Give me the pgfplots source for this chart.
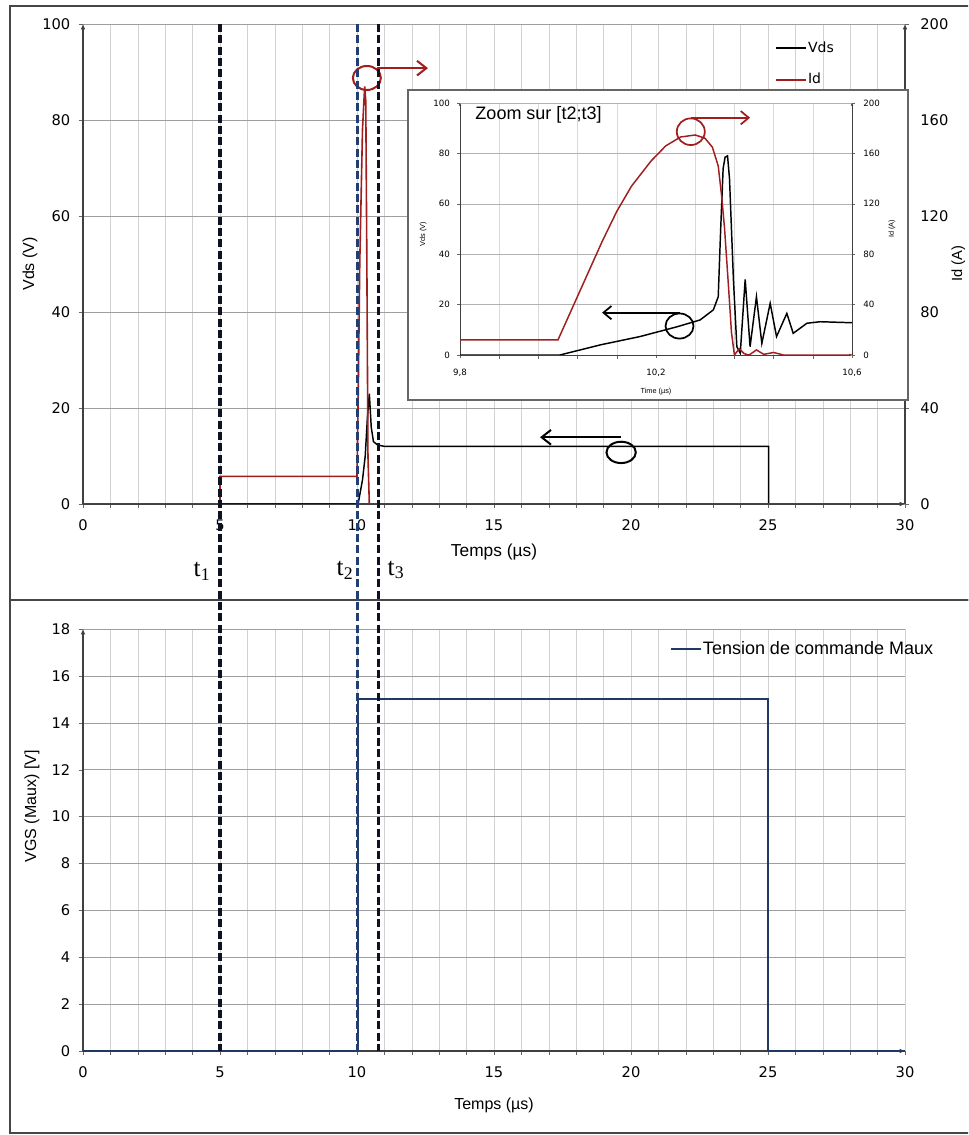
\documentclass[border=0pt]{standalone}
\usepackage{pgfplots}
\pgfplotsset{compat=1.18}
\usepackage{fontspec}
\setmainfont{Liberation Sans}
\newfontfamily\dv{DejaVu Sans}
\newfontfamily\tnr{Liberation Serif}
\usetikzlibrary{arrows.meta}

\definecolor{idred}{RGB}{160,30,30}
\definecolor{vgsblue}{RGB}{31,56,100}
\definecolor{framegray}{RGB}{70,70,70}
\definecolor{tdash}{RGB}{15,18,35}
\definecolor{tblue}{RGB}{35,62,115}

\tikzset{tline/.style={line width=2.4pt, dash pattern=on 6pt off 2.5pt}}
\pgfplotsset{
  excel/.style={scale only axis, axis lines*=left,
    axis line style={black!75,line width=0.8pt,-{Latex[length=4pt,width=3.5pt]}},
    tick align=outside, major tick length=3pt, tick style={black!60},
    every tick label/.append style={font=\dv\fontsize{11}{13}\selectfont},
    /pgf/number format/assume math mode=true},
}

\begin{document}
\begin{tikzpicture}
\useasboundingbox (0,0) rectangle (726pt,851.25pt);
\clip (0,0) rectangle (726pt,851.25pt);
\fill[white] (0,0) rectangle (726pt,851.25pt);
% frames
\draw[framegray,line width=1.3pt] (7.5pt,401.25pt) rectangle (740pt,846.75pt);
\draw[framegray,line width=1.3pt] (7.5pt,1.5pt) rectangle (740pt,401.25pt);
\draw[framegray,line width=2pt] (7.5pt,401.25pt) -- (740pt,401.25pt);

% ---- top: Vds
\begin{axis}[excel, at={(62.25pt,473.25pt)}, anchor=south west,
  width=616.5pt, height=360pt,
  xmin=0, xmax=30, ymin=0, ymax=100,
  xtick={0,5,...,30}, ytick={0,20,...,100}, minor x tick num=4,
  xmajorgrids, xminorgrids, ymajorgrids,
  x grid style={black!18}, y grid style={black!38},
  xticklabel style={yshift=-5pt}, yticklabel style={xshift=-3pt},
  ylabel={Vds (V)}, xlabel={Temps (µs)},
  every axis y label/.style={at={(axis description cs:-0.0645,0.5)},rotate=90,anchor=center,font=\fontsize{12}{14}\selectfont},
  every axis x label/.style={at={(axis description cs:0.5,-0.1)},anchor=center,font=\fontsize{13}{15}\selectfont}]
\addplot[black, line width=1.1pt] coordinates {
  (5,0) (10.04,0) (10.2,5) (10.3,10) (10.38,18) (10.45,23) (10.52,16)
  (10.6,13) (10.75,12.3) (11,12) (25.02,12) (25.02,0)};
\end{axis}

% ---- top: Id on right axis
\begin{axis}[excel, axis y line*=right, axis x line=none,
  at={(62.25pt,473.25pt)}, anchor=south west,
  width=616.5pt, height=360pt,
  xmin=0, xmax=30, ymin=0, ymax=200, xtick=\empty,
  ytick={0,40,...,200}, yticklabel style={xshift=5pt},
  ylabel={Id (A)},
  every axis y label/.style={at={(axis description cs:1.065,0.5)},rotate=90,anchor=center,font=\fontsize{11}{13}\selectfont},
  legend style={at={(0.842,0.966)}, anchor=north west, draw=none, fill=none,
    font=\dv\fontsize{10.5}{12}\selectfont, row sep=12pt, inner sep=0pt,
    nodes={inner sep=1pt}},
  legend image code/.code={\draw[#1] (0pt,0pt) -- (22pt,0pt);},
  legend cell align=left]
\addlegendimage{black,line width=1.5pt}
\addlegendentry{Vds}
\addlegendimage{idred,line width=1.5pt}
\addlegendentry{Id}
\addplot[idred, line width=1.2pt] coordinates {
  (0,0) (5,0) (5,11.5) (10.0,11.5) (10.05,50) (10.1,100) (10.2,156)
  (10.28,174) (10.32,168) (10.36,100) (10.4,20) (10.45,0) (30,0)};
\draw[idred, line width=1.5pt] (axis cs:10.36,177.5) ellipse [x radius=10.5pt, y radius=9pt];
\draw[idred, line width=1.5pt, -{Straight Barb[length=7pt,width=11pt]}]
  (axis cs:10.73,181.6) -- (axis cs:12.59,181.6);
\draw[black, line width=1.5pt] (axis cs:19.64,21.5) ellipse [x radius=11pt, y radius=8pt];
\draw[black, line width=1.5pt, -{Straight Barb[length=7pt,width=11pt]}]
  (axis cs:19.64,27.8) -- (axis cs:16.68,27.8);
\end{axis}

% ---- inset
\fill[white] (306pt,551.25pt) rectangle (681pt,783.75pt);
\draw[black!60, line width=0.8pt] (306pt,551.25pt) rectangle (681pt,783.75pt);

\begin{axis}[excel, at={(345pt,585pt)}, anchor=south west,
  width=294pt, height=189pt,
  xmin=9.8, xmax=10.6, ymin=0, ymax=100,
  axis line style={black!75,line width=0.6pt,-{Latex[length=2pt,width=2pt]}},
  major tick length=2pt,
  xtick={9.8,10.2,10.6}, xticklabels={{9,8},{10,2},{10,6}},
  minor xtick={9.88,9.96,10.04,10.12,10.28,10.36,10.44,10.52},
  ytick={0,20,...,100},
  xmajorgrids, xminorgrids, ymajorgrids,
  x grid style={black!15}, y grid style={black!30},
  every tick label/.append style={font=\dv\fontsize{6.5}{8}\selectfont},
  xticklabel style={yshift=-5pt}, yticklabel style={xshift=-2pt},
  ylabel={Vds (V)}, xlabel={Time (µs)},
  every axis y label/.style={at={(axis description cs:-0.094,0.48)},rotate=90,anchor=center,font=\fontsize{5.5}{6}\selectfont},
  every axis x label/.style={at={(axis description cs:0.5,-0.147)},anchor=center,font=\fontsize{5.5}{6}\selectfont}]
\addplot[black, line width=1.1pt] coordinates {
  (9.8,0) (10.004,0) (10.086,4.0) (10.167,7.3) (10.243,11.2) (10.29,13.9)
  (10.317,17.9) (10.327,23.1) (10.332,50) (10.337,74) (10.341,78.5)
  (10.346,79) (10.35,70) (10.358,30) (10.365,3.3) (10.372,0.7) (10.382,30)
  (10.392,3.3) (10.405,23.1) (10.416,4.6) (10.433,20.5) (10.446,7.3)
  (10.467,16.5) (10.48,8.6) (10.508,12.6) (10.535,13.2) (10.6,12.8)};
\node[anchor=west, font=\fontsize{13.5}{15}\selectfont] at (axis cs:9.822,95.2) {Zoom sur [t2;t3]};
\end{axis}

\begin{axis}[excel, axis y line*=right, axis x line=none,
  at={(345pt,585pt)}, anchor=south west,
  width=294pt, height=189pt,
  xmin=9.8, xmax=10.6, ymin=0, ymax=200, xtick=\empty,
  axis line style={black!75,line width=0.6pt,-{Latex[length=2pt,width=2pt]}},
  major tick length=2pt,
  ytick={0,40,...,200},
  every tick label/.append style={font=\dv\fontsize{6.5}{8}\selectfont},
  yticklabel style={xshift=3pt},
  ylabel={Id (A)},
  every axis y label/.style={at={(axis description cs:1.102,0.5)},rotate=90,anchor=center,font=\fontsize{5.5}{6}\selectfont}]
\addplot[idred, line width=1.1pt] coordinates {
  (9.8,12) (10.0,12) (10.03,38) (10.06,64) (10.09,90) (10.12,114)
  (10.15,134) (10.19,154) (10.22,166) (10.25,173) (10.28,174.6) (10.30,172)
  (10.315,165) (10.327,150) (10.334,126) (10.34,100) (10.348,54)
  (10.354,18) (10.36,0) (10.37,5) (10.38,1) (10.39,0) (10.405,4)
  (10.42,0.5) (10.44,2) (10.46,0) (10.6,0)};
\draw[idred, line width=1.3pt] (axis cs:10.271,177.2) ellipse [x radius=10.5pt, y radius=10pt];
\draw[idred, line width=1.3pt, -{Straight Barb[length=6pt,width=10pt]}]
  (axis cs:10.271,188.3) -- (axis cs:10.392,188.3);
\draw[black, line width=1.3pt] (axis cs:10.248,23) ellipse [x radius=10.5pt, y radius=9.4pt];
\draw[black, line width=1.3pt, -{Straight Barb[length=6pt,width=10pt]}]
  (axis cs:10.248,33.6) -- (axis cs:10.09,33.6);
\end{axis}

% ---- bottom: VGS
\begin{axis}[excel, at={(62.25pt,63pt)}, anchor=south west,
  width=616.5pt, height=316.5pt, clip=false,
  xmin=0, xmax=30, ymin=0, ymax=18,
  xtick={0,5,...,30}, ytick={0,2,...,18}, minor x tick num=4,
  xmajorgrids, xminorgrids, ymajorgrids,
  x grid style={black!18}, y grid style={black!38},
  xticklabel style={yshift=-5pt}, yticklabel style={xshift=-3pt},
  ylabel={VGS (Maux) [V]}, xlabel={Temps (µs)},
  every axis y label/.style={at={(axis description cs:-0.062,0.58)},rotate=90,anchor=center,font=\fontsize{12}{14}\selectfont},
  every axis x label/.style={at={(axis description cs:0.5,-0.128)},anchor=center,font=\fontsize{12}{14}\selectfont},
  legend style={at={(0.714,0.975)}, anchor=north west, draw=none, fill=none,
    font=\fontsize{13.5}{15}\selectfont, inner sep=0pt, nodes={inner sep=1pt}},
  legend image code/.code={\draw[#1] (0pt,0pt) -- (22pt,0pt);},
  legend cell align=left]
\addplot[vgsblue, line width=1.6pt] coordinates {
  (0,0) (10.03,0) (10.03,15) (25,15) (25,0) (30,0)};
\addlegendentry{Tension de commande Maux}
% dashed markers t1, t2, t3 running up to the top of the upper chart (y=43.806 here)
\draw[tdash, tline] (axis cs:5,43.806) -- (axis cs:5,0);
\draw[tblue, tline] (axis cs:10.03,43.806) -- (axis cs:10.03,0);
\draw[tdash, tline] (axis cs:10.77,43.806) -- (axis cs:10.77,0);
\end{axis}

\node[font=\tnr\fontsize{19}{21}\selectfont] at (151.5pt,423pt) {t\textsubscript{1}};
\node[font=\tnr\fontsize{19}{21}\selectfont] at (258.75pt,423.75pt) {t\textsubscript{2}};
\node[font=\tnr\fontsize{19}{21}\selectfont] at (297pt,423.75pt) {t\textsubscript{3}};
\end{tikzpicture}
\end{document}
